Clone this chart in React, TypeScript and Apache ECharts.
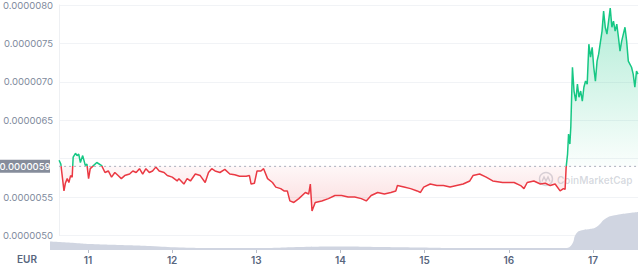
import { useEffect, useRef } from "react";
import * as echarts from "echarts";

// Time in days of the month (fractional), price in units of 1e-7 EUR
const priceDays = [
  10.549, 10.57, 10.608, 10.625, 10.647, 10.667, 10.688, 10.707, 10.719, 10.747,
  10.766, 10.786, 10.806, 10.834, 10.866, 10.885, 10.905, 10.925, 10.964, 11.004,
  11.063, 11.103, 11.143, 11.182, 11.222, 11.261, 11.3, 11.341, 11.4, 11.439,
  11.479, 11.519, 11.558, 11.597, 11.638, 11.677, 11.716, 11.757, 11.816, 11.855,
  11.914, 11.974, 11.995, 12.055, 12.094, 12.134, 12.193, 12.252, 12.312, 12.352,
  12.391, 12.431, 12.49, 12.549, 12.609, 12.668, 12.727, 12.807, 12.846, 12.866,
  12.906, 12.938, 12.985, 13.017, 13.065, 13.124, 13.164, 13.223, 13.263, 13.303,
  13.334, 13.382, 13.442, 13.521, 13.561, 13.581, 13.601, 13.64, 13.719, 13.799,
  13.878, 13.958, 14.037, 14.117, 14.196, 14.256, 14.315, 14.394, 14.474, 14.553,
  14.612, 14.632, 14.711, 14.791, 14.87, 14.91, 14.949, 15.028, 15.108, 15.187,
  15.267, 15.346, 15.425, 15.505, 15.544, 15.624, 15.703, 15.782, 15.901, 16.04,
  16.119, 16.159, 16.198, 16.278, 16.357, 16.416, 16.476, 16.535, 16.595, 16.635,
  16.655, 16.668, 16.685, 16.697, 16.713, 16.724, 16.744, 16.763, 16.784, 16.804,
  16.823, 16.843, 16.863, 16.882, 16.902, 16.922, 16.942, 16.962, 16.982, 17.001,
  17.021, 17.041, 17.06, 17.101, 17.12, 17.14, 17.16, 17.2, 17.22, 17.239,
  17.259, 17.279, 17.299, 17.318, 17.338, 17.378, 17.398, 17.418, 17.457, 17.477,
  17.497, 17.517, 17.535,
];
const pricesE7 = [
  59.8, 59.3, 55.8, 56.8, 57.4, 56.9, 57.8, 57.6, 60.2, 60.7,
  60.4, 60.6, 59.5, 60.4, 59.1, 59.3, 57.4, 58.7, 59.1, 59.5,
  59.1, 58.2, 58.4, 57.6, 58.2, 57.8, 57.4, 57.8, 58.0, 58.4,
  58.2, 58.7, 58.0, 58.7, 58.2, 58.4, 58.9, 58.4, 58.2, 57.8,
  57.6, 57.1, 57.4, 56.7, 57.4, 57.1, 58.0, 57.8, 56.9, 58.2,
  58.7, 58.4, 58.2, 58.6, 58.0, 57.9, 57.7, 57.7, 57.8, 56.7,
  56.8, 58.4, 58.4, 58.7, 57.4, 56.9, 56.3, 56.1, 55.8, 55.8,
  54.5, 54.3, 54.8, 55.6, 55.4, 56.7, 53.2, 54.3, 54.5, 54.8,
  55.2, 55.2, 55.0, 55.0, 54.8, 54.5, 55.2, 55.6, 55.4, 55.6,
  55.8, 56.5, 56.3, 56.1, 55.8, 55.6, 56.3, 56.7, 56.5, 56.5,
  56.3, 56.5, 56.7, 57.1, 57.8, 58.0, 57.6, 57.1, 56.9, 56.9,
  56.5, 56.1, 56.9, 57.1, 56.7, 56.8, 56.5, 56.7, 55.8, 56.1,
  56.0, 58.9, 60.6, 63.2, 61.9, 64.1, 71.9, 68.8, 67.5, 69.7,
  68.0, 68.8, 67.5, 69.3, 70.1, 69.7, 74.9, 73.2, 74.5, 71.9,
  70.1, 72.7, 73.6, 76.6, 79.2, 77.1, 76.2, 79.6, 77.1, 77.9,
  76.6, 77.5, 75.8, 74.0, 75.3, 77.1, 75.3, 72.7, 71.9, 71.0,
  69.3, 71.4, 71.0,
];

// Volume (thousand EUR)
const volumeDays = [
  10.549, 10.667, 10.846, 11.024, 11.38, 11.736, 12.093, 12.568, 13.043, 13.518,
  13.993, 14.468, 14.943, 15.418, 15.893, 16.368, 16.665, 16.745, 16.804, 16.883,
  16.962, 17.041, 17.16, 17.279, 17.437, 17.535,
];
const volumeValues = [
  85, 80, 70, 60, 50, 40, 25, 20, 20, 30,
  35, 30, 25, 20, 20, 20, 20, 50, 167, 200,
  210, 230, 320, 350, 370, 380,
];

const dayTicks = [11, 12, 13, 14, 15, 16, 17];
const referencePrice = 0.0000059;
const referenceLabel = "0.0000059";
const hiddenTick = 0.000006; // covered by the reference-price tag
const currencyLabel = "EUR";
const watermark = "CoinMarketCap";

const X_MIN = 10.549;
const X_MAX = 17.535;

export default function App() {
  const ref = useRef<HTMLDivElement>(null);

  useEffect(() => {
    document.body.style.margin = "0";
    if (!ref.current) return;
    const chart = echarts.init(ref.current, undefined, { renderer: "svg" });

    const priceData = priceDays.map((d, i) => [d, pricesE7[i] * 1e-7]);
    const volumeData = volumeDays.map((d, i) => [d, volumeValues[i]]);
    const refData = [
      [X_MIN, referencePrice],
      [X_MAX, referencePrice],
    ];
    const wmColor = "rgba(128,138,157,0.32)";

    const gradient = new echarts.graphic.LinearGradient(
      0, 5, 0, 205,
      [
        { offset: 0, color: "rgba(22,199,132,0.34)" },
        { offset: 0.806, color: "rgba(22,199,132,0.02)" },
        { offset: 0.806, color: "rgba(234,57,67,0.04)" },
        { offset: 1, color: "rgba(234,57,67,0.16)" },
      ],
      true
    );

    const baseGraphics: any[] = [
      {
        type: "text",
        left: 17,
        top: 254,
        style: {
          text: currencyLabel,
          fontSize: 10,
          fontWeight: 600,
          fill: "#58667e",
          fontFamily: "Inter",
        },
      },
      {
        type: "group",
        left: 537,
        top: 170,
        z: 10,
        children: [
          {
            type: "circle",
            shape: { cx: 7, cy: 7, r: 6.5 },
            style: { fill: "none", stroke: wmColor, lineWidth: 1.4 },
          },
          {
            type: "polyline",
            shape: { points: [[3, 9.5], [5, 5], [7, 9], [9, 5], [11, 9.5]] },
            style: { fill: "none", stroke: wmColor, lineWidth: 1.4 },
          },
          {
            type: "text",
            x: 18,
            y: 7.5,
            style: {
              text: watermark,
              fontSize: 10,
              fontWeight: 600,
              fill: wmColor,
              verticalAlign: "middle",
              fontFamily: "Inter",
            },
          },
        ],
      },
    ];

    chart.setOption({
      animation: false,
      textStyle: { fontFamily: "Inter, 'Noto Sans', sans-serif" },
      grid: [
        { left: 50, right: 2, top: 5, height: 230.5 },
        { left: 50, right: 2, top: 204, height: 46 },
      ],
      xAxis: [
        { type: "value", gridIndex: 0, min: X_MIN, max: X_MAX, show: false },
        {
          type: "value",
          gridIndex: 1,
          min: X_MIN,
          max: X_MAX,
          axisLine: { show: false },
          splitLine: { show: false },
          axisTick: {
            show: true,
            customValues: dayTicks,
            length: 3,
            lineStyle: { color: "#b8bdc8" },
          },
          axisLabel: {
            customValues: dayTicks,
            formatter: (v: number) => String(Math.round(v)),
            fontSize: 10,
            fontWeight: 600,
            color: "#58667e",
            margin: 5,
          },
        },
      ],
      yAxis: [
        {
          type: "value",
          gridIndex: 0,
          min: 0.000005,
          max: 0.000008,
          interval: 0.0000005,
          axisLine: { show: true, lineStyle: { color: "#eef0f3" } },
          axisTick: { show: false },
          splitLine: { lineStyle: { color: "#f1f3f6" } },
          axisLabel: {
            formatter: (v: number) =>
              Math.abs(v - hiddenTick) < 1e-9 ? "" : v.toFixed(7),
            fontSize: 9.5,
            color: "#808a9d",
            margin: 6,
          },
        },
        { type: "value", gridIndex: 1, min: 0, max: 460, show: false },
      ],
      visualMap: {
        type: "piecewise",
        show: false,
        seriesIndex: 0,
        dimension: 1,
        pieces: [
          { gte: 0.000004, lte: referencePrice, color: "#ea3943" },
          { gt: referencePrice, lte: 0.000009, color: "#16c784" },
        ],
        outOfRange: { color: "#16c784" },
      },
      series: [
        {
          type: "line",
          xAxisIndex: 0,
          yAxisIndex: 0,
          data: priceData,
          symbol: "none",
          z: 3,
          lineStyle: { width: 1.5 },
          areaStyle: { origin: referencePrice, opacity: 1, color: gradient },
        },
        {
          type: "line",
          xAxisIndex: 1,
          yAxisIndex: 1,
          data: volumeData,
          symbol: "none",
          smooth: true,
          z: 1,
          lineStyle: { width: 0 },
          itemStyle: { color: "#cfd4e0" },
          areaStyle: { color: "#d0d5e1", opacity: 1 },
        },
        {
          type: "line",
          xAxisIndex: 0,
          yAxisIndex: 0,
          data: refData,
          symbol: "none",
          silent: true,
          z: 5,
          lineStyle: { type: [2, 3], color: "#a8aebb", width: 1 },
          itemStyle: { color: "#a8aebb" },
        },
      ],
      graphic: baseGraphics,
    });

    // Place the reference-price tag at the pixel the y axis gives for it
    const pt = chart.convertToPixel({ gridIndex: 0 }, [X_MIN, referencePrice]) as number[];
    const yRef = pt[1];
    chart.setOption({
      graphic: [
        ...baseGraphics,
        {
          type: "rect",
          z: 20,
          shape: { x: 0, y: yRef - 6.5, width: 50, height: 13 },
          style: { fill: "#868d9b" },
        },
        {
          type: "text",
          z: 21,
          x: 25,
          y: yRef + 0.5,
          style: {
            text: referenceLabel,
            fontSize: 9.5,
            fontWeight: 500,
            fill: "#ffffff",
            align: "center",
            verticalAlign: "middle",
            fontFamily: "Inter",
          },
        },
      ],
    });

    return () => chart.dispose();
  }, []);

  return <div ref={ref} style={{ width: 640, height: 266 }} />;
}
